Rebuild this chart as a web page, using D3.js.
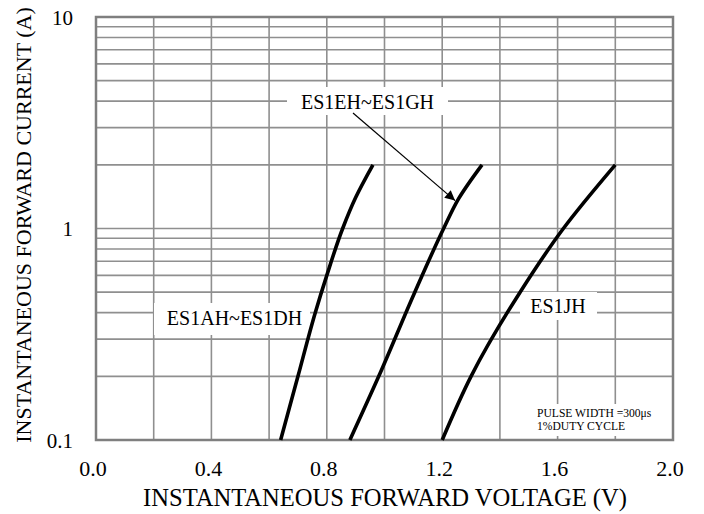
<!DOCTYPE html>
<html><head><meta charset="utf-8">
<script src="https://cdn.jsdelivr.net/npm/d3@7"></script>
<style>body{margin:0;background:#fff}svg{display:block}</style>
</head><body><svg id="c" width="704" height="514"></svg>
<script>
const xTicks = [0, 0.4, 0.8, 1.2, 1.6, 2.0];
const yTicks = [0.1, 1, 10];
const xGrid = [0.2, 0.4, 0.6, 0.8, 1.0, 1.2, 1.4, 1.6, 1.8];
const yGrid = [0.2,0.3,0.4,0.5,0.6,0.7,0.8,0.9,1,2,3,4,5,6,7,8,9];
const seriesNames = ["ES1AH~ES1DH", "ES1EH~ES1GH", "ES1JH"];
const curveAD = [[0.64,0.1],[0.70,0.2],[0.76,0.4],[0.80,0.6],[0.855,1.0],[0.90,1.4],[0.96,2.0]];
const curveEG = [[0.88,0.1],[0.98,0.2],[1.105,0.5],[1.205,1.0],[1.255,1.37],[1.338,2.0]];
const curveJ  = [[1.2,0.1],[1.30,0.2],[1.47,0.5],[1.62,1.0],[1.80,2.0]];
const noteLines = ["PULSE WIDTH =300\u03bcs", "1%DUTY CYCLE"];
const FONT = '"Liberation Serif"';

const svg = d3.select("#c");
const x = d3.scaleLinear([0, 2], [96, 673]);
const y = d3.scaleLog([0.1, 10], [440, 17]);

function txt(sel) { return sel.style("font-family", FONT).attr("fill", "#000"); }

// grid
const g = svg.append("g");
g.selectAll(".vg").data(xGrid).join("line")
  .attr("x1", d => x(d)).attr("x2", d => x(d)).attr("y1", y(10)).attr("y2", y(0.1))
  .attr("stroke", "#8f8f8f").attr("stroke-width", 1.6);
g.selectAll(".hg").data(yGrid).join("line")
  .attr("x1", x(0)).attr("x2", x(2)).attr("y1", d => y(d)).attr("y2", d => y(d))
  .attr("stroke", "#8f8f8f").attr("stroke-width", 1.6);

// frame
svg.append("rect").attr("x", x(0)).attr("y", y(10)).attr("width", x(2) - x(0)).attr("height", y(0.1) - y(10))
  .attr("fill", "none").attr("stroke", "#7f7f7f").attr("stroke-width", 2.5);

// series label boxes (white, under the curves)
const labelSpecs = [
  {t: seriesNames[1], cx: 367.5, base: 109, box: [287, 87, 161, 28]},
  {t: seriesNames[0], cx: 234.5, base: 325, box: [154, 303, 156, 32]},
  {t: seriesNames[2], cx: 558,   base: 313, box: [520, 292, 77, 28]}
];
svg.append("g").selectAll("rect").data(labelSpecs).join("rect")
  .attr("x", d => d.box[0]).attr("y", d => d.box[1]).attr("width", d => d.box[2]).attr("height", d => d.box[3])
  .attr("fill", "#fff");
txt(svg.append("g").selectAll("text").data(labelSpecs).join("text"))
  .attr("x", d => d.cx).attr("y", d => d.base).attr("text-anchor", "middle").attr("font-size", 20).text(d => d.t);

// curves
const line = d3.line().x(d => x(d[0])).y(d => y(d[1])).curve(d3.curveMonotoneY);
svg.append("g").selectAll("path").data([curveAD, curveEG, curveJ]).join("path")
  .attr("d", line).attr("fill", "none")
  .attr("stroke", "#000").attr("stroke-width", 3.6).attr("stroke-linecap", "butt");

// arrow
svg.append("defs").append("marker").attr("id", "ah").attr("viewBox", "0 0 10 10")
  .attr("refX", 10).attr("refY", 5).attr("markerWidth", 14).attr("markerHeight", 10)
  .attr("markerUnits", "userSpaceOnUse").attr("orient", "auto")
  .append("path").attr("d", "M0,0 L10,5 L0,10 Z").attr("fill", "#000");
svg.append("line").attr("x1", 353).attr("y1", 113).attr("x2", x(1.255) - 3).attr("y2", y(1.37) + 1)
  .attr("stroke", "#000").attr("stroke-width", 1.2).attr("marker-end", "url(#ah)");

// note
svg.append("rect").attr("x", 533).attr("y", 404).attr("width", 128).attr("height", 32).attr("fill", "#fff");
txt(svg.selectAll(".note").data(noteLines).join("text"))
  .attr("x", 537).attr("y", (d, i) => 417 + i * 13).attr("font-size", 11.6).text(d => d);

// tick labels
txt(svg.selectAll(".xt").data(xTicks).join("text"))
  .attr("x", d => x(d) - 3).attr("y", 476).attr("text-anchor", "middle").attr("font-size", 22)
  .text(d => d3.format(".1f")(d));
txt(svg.selectAll(".yt").data(yTicks).join("text"))
  .attr("x", 73).attr("y", d => y(d) + 7.5).attr("text-anchor", "end").attr("font-size", 21)
  .text(d => d);

// axis titles
txt(svg.append("text")).attr("x", 385).attr("y", 506).attr("text-anchor", "middle").attr("font-size", 24.6)
  .text("INSTANTANEOUS FORWARD VOLTAGE (V)");
txt(svg.append("text")).attr("transform", "translate(31,225) rotate(-90)").attr("text-anchor", "middle")
  .attr("font-size", 22).text("INSTANTANEOUS FORWARD CURRENT (A)");
</script></body></html>
